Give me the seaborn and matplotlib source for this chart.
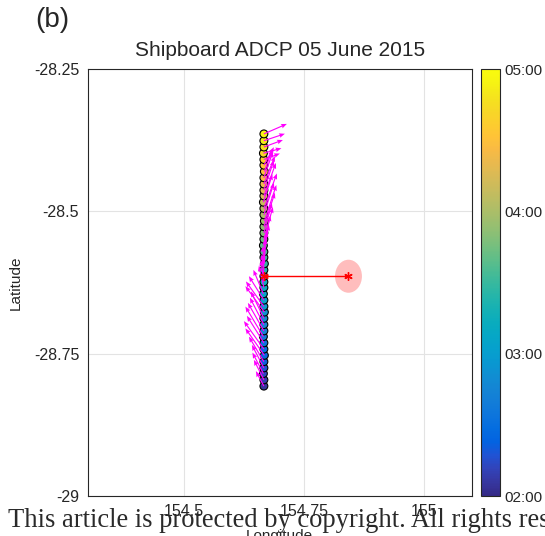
import numpy as np
import pandas as pd
import matplotlib
matplotlib.use("Agg")
import matplotlib.pyplot as plt
import seaborn as sns
from matplotlib.colors import LinearSegmentedColormap, Normalize
from matplotlib.cm import ScalarMappable
from matplotlib.patches import Ellipse

# ---------------- data ----------------
lat = [-28.807, -28.796, -28.785, -28.775, -28.764, -28.753, -28.742, -28.731,
       -28.720, -28.710, -28.699, -28.688, -28.677, -28.667, -28.656, -28.645,
       -28.634, -28.624, -28.614, -28.603, -28.592, -28.581, -28.571, -28.560,
       -28.549, -28.538, -28.527, -28.517, -28.506, -28.495, -28.484, -28.473,
       -28.463, -28.452, -28.441, -28.430, -28.419, -28.409, -28.398, -28.387,
       -28.376, -28.364]
lon = [154.667, 154.667, 154.666, 154.667, 154.667, 154.668, 154.667, 154.667,
       154.666, 154.667, 154.667, 154.667, 154.668, 154.667, 154.667, 154.666,
       154.667, 154.667, 154.667, 154.667, 154.668, 154.667, 154.667, 154.666,
       154.667, 154.667, 154.667, 154.668, 154.667, 154.667, 154.666, 154.667,
       154.667, 154.667, 154.667, 154.668, 154.667, 154.667, 154.666, 154.667,
       154.667, 154.667]
time_h = [2.08, 2.15, 2.22, 2.29, 2.36, 2.43, 2.50, 2.56, 2.63, 2.70, 2.77,
          2.84, 2.91, 2.98, 3.05, 3.12, 3.19, 3.26, 3.33, 3.40, 3.47, 3.53,
          3.60, 3.67, 3.74, 3.81, 3.88, 3.95, 4.02, 4.09, 4.16, 4.23, 4.30,
          4.37, 4.44, 4.50, 4.57, 4.64, 4.71, 4.78, 4.85, 4.92]
# current components (m/s)
u = [-0.16, -0.20, -0.22, -0.24, -0.30, -0.38, -0.40, -0.34, -0.36, -0.32,
     -0.28, -0.26, -0.38, -0.36, -0.30, -0.20, -0.10, -0.06, -0.04, -0.02,
     0.02, 0.06, 0.10, 0.14, 0.18, 0.16, 0.22, 0.24, 0.20, 0.26, 0.18, 0.24,
     0.20, 0.22, 0.18, 0.16, 0.20, 0.32, 0.36, 0.38, 0.42, 0.46]
v = [0.30, 0.40, 0.42, 0.46, 0.50, 0.54, 0.56, 0.54, 0.60, 0.56, 0.54, 0.54,
     0.52, 0.50, 0.48, 0.48, 0.44, 0.44, 0.44, 0.48, 0.50, 0.52, 0.54, 0.60,
     0.64, 0.60, 0.68, 0.72, 0.64, 0.70, 0.56, 0.66, 0.60, 0.56, 0.52, 0.44,
     0.36, 0.12, 0.10, 0.14, 0.14, 0.20]
# mooring / comparison point
ref_idx = 18
moor_lon = 154.843
moor_lat = -28.614
moor_w = 0.056
moor_h = 0.058

xticks = [154.5, 154.75, 155]
xticklabels = ["154.5", "154.75", "155"]
yticks = [-29, -28.75, -28.5, -28.25]
yticklabels = ["-29", "-28.75", "-28.5", "-28.25"]
cbar_ticks = [2, 3, 4, 5]
cbar_labels = ["02:00", "03:00", "04:00", "05:00"]

# ---------------- style ----------------
sns.set_theme(style="white")
plt.rcParams['font.family'] = ['Liberation Sans', 'DejaVu Sans']

parula_anchor = [
    (0.2081, 0.1663, 0.5292), (0.2123, 0.2138, 0.6270), (0.1959, 0.2645, 0.7279),
    (0.1253, 0.3242, 0.8303), (0.0117, 0.3875, 0.8820), (0.0165, 0.4266, 0.8786),
    (0.0498, 0.4586, 0.8641), (0.0722, 0.4887, 0.8467), (0.0793, 0.5200, 0.8312),
    (0.0641, 0.5570, 0.8240), (0.0343, 0.5966, 0.8199), (0.0239, 0.6287, 0.8038),
    (0.0228, 0.6535, 0.7768), (0.0384, 0.6743, 0.7436), (0.0843, 0.6928, 0.7062),
    (0.1453, 0.7098, 0.6646), (0.2178, 0.7250, 0.6193), (0.3022, 0.7376, 0.5712),
    (0.3953, 0.7459, 0.5244), (0.4871, 0.7491, 0.4840), (0.5709, 0.7485, 0.4494),
    (0.6473, 0.7456, 0.4188), (0.7184, 0.7411, 0.3905), (0.7858, 0.7356, 0.3633),
    (0.8507, 0.7299, 0.3360), (0.9139, 0.7258, 0.3063), (0.9739, 0.7314, 0.2666),
    (0.9990, 0.7653, 0.2164), (0.9880, 0.8066, 0.1794), (0.9697, 0.8481, 0.1475),
    (0.9589, 0.8949, 0.1132), (0.9661, 0.9514, 0.0755), (0.9763, 0.9831, 0.0538)]
parula = LinearSegmentedColormap.from_list("parula", parula_anchor, N=256)
norm = Normalize(vmin=2, vmax=5)

W, H = 545, 536
fig = plt.figure(figsize=(W / 100, H / 100), dpi=100)
ax = fig.add_axes([87.5 / W, (H - 496) / H, (472 - 87.5) / W, 427 / H])

df = pd.DataFrame({"lon": lon, "lat": lat, "time": time_h, "u": u, "v": v})

# grid
ax.set_xlim(154.3, 155.1)
ax.set_ylim(-29, -28.25)
ax.set_xticks(xticks)
ax.set_xticklabels(xticklabels)
ax.set_yticks(yticks)
ax.set_yticklabels(yticklabels)
ax.grid(True, color="#e3e3e3", linewidth=0.8)
ax.set_axisbelow(True)

# mooring ellipse and connecting line
ax.add_patch(Ellipse((moor_lon, moor_lat), moor_w, moor_h, facecolor=(1, 0.74, 0.74),
                     edgecolor="none", zorder=1))
ax.plot([lon[ref_idx], moor_lon], [lat[ref_idx], moor_lat], color="red", lw=1.0,
        marker=(6, 2, 0), markersize=6, markeredgewidth=1.0, zorder=5)

sns.scatterplot(data=df, x="lon", y="lat", hue="time", palette=parula, hue_norm=norm,
                legend=False, s=32, edgecolor="black", linewidth=0.8, ax=ax, zorder=3)

ax.quiver(df["lon"], df["lat"], df["u"], df["v"], angles="uv", scale_units="dots",
          scale=0.02, color="#ff00ff", width=0.003, headwidth=4, headlength=5,
          headaxislength=4.5, zorder=4)

ax.set_title("Shipboard ADCP 05 June 2015", fontsize=15, pad=9)
ax.set_xlabel("Longitude", fontsize=11, labelpad=7)
ax.set_ylabel("Latitude", fontsize=11, labelpad=8)
ax.tick_params(axis="both", direction="in", length=4, width=0.6, labelsize=11.5,
               colors="#262626", pad=6)
for s in ax.spines.values():
    s.set_color("#262626")
    s.set_linewidth(0.8)

# colorbar
cax = fig.add_axes([481 / W, (H - 496) / H, 19 / W, 427 / H])
cb = fig.colorbar(ScalarMappable(norm=norm, cmap=parula), cax=cax)
cb.set_ticks(cbar_ticks)
cb.set_ticklabels(cbar_labels)
cb.ax.tick_params(direction="in", length=3, width=0.6, labelsize=11, colors="#262626", pad=3)
cb.outline.set_edgecolor("#262626")
cb.outline.set_linewidth(0.8)

fig.text(35 / W, 1 - 20 / H, "(b)", fontsize=20, va="center", ha="left")
fig.text(8 / W, 1 - 527 / H, "This article is protected by copyright. All rights reserved.",
         fontsize=19.1, family=["Liberation Serif"], color="#2a2a2a", va="baseline", ha="left")

fig.savefig("out.png", dpi=100)
